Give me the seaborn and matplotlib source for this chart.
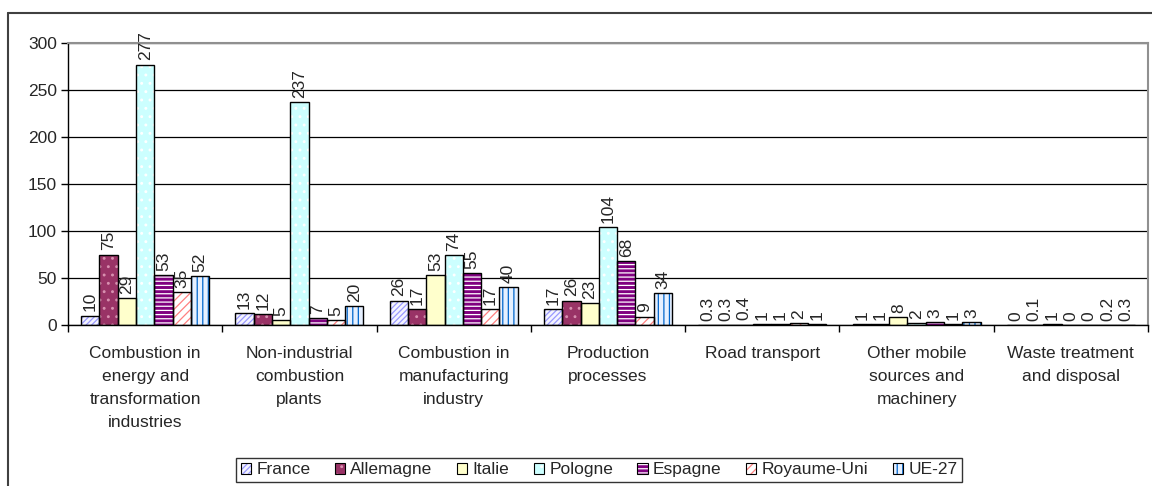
import pandas as pd
import matplotlib.pyplot as plt
import seaborn as sns
from matplotlib.patches import Patch, Rectangle
from matplotlib.lines import Line2D

# --- Data ---
sectors = [
    "Combustion in\nenergy and\ntransformation\nindustries",
    "Non-industrial\ncombustion\nplants",
    "Combustion in\nmanufacturing\nindustry",
    "Production\nprocesses",
    "Road transport",
    "Other mobile\nsources and\nmachinery",
    "Waste treatment\nand disposal",
]
countries = ["France", "Allemagne", "Italie", "Pologne", "Espagne", "Royaume-Uni", "UE-27"]

france = [10, 13, 26, 17, 0.3, 1, 0]
allemagne = [75, 12, 17, 26, 0.3, 1, 0.1]
italie = [29, 5, 53, 23, 0.4, 8, 1]
pologne = [277, 237, 74, 104, 1, 2, 0]
espagne = [53, 7, 55, 68, 1, 3, 0]
royaume_uni = [35, 5, 17, 9, 2, 1, 0.2]
ue27 = [52, 20, 40, 34, 1, 3, 0.3]

series = [france, allemagne, italie, pologne, espagne, royaume_uni, ue27]

# face colour, hatch, hatch colour
styles = [
    ("#F4F4FF", "//////", "#9999FF"),
    ("#993366", "..", "#D890B0"),
    ("#FFFFCC", "", "#FFFFCC"),
    ("#CCFFFF", "..", "#FFFFFF"),
    ("#800080", "----", "#FFFFFF"),
    ("#FFFFFF", "////", "#FF8080"),
    ("#E6F0FF", "|||", "#0066CC"),
]

rows = []
for country, vals in zip(countries, series):
    for sector, v in zip(sectors, vals):
        rows.append({"sector": sector, "country": country, "value": v})
df = pd.DataFrame(rows)

# --- Plot ---
sns.set_theme(style="white")
plt.rcParams["font.family"] = ["Liberation Sans", "DejaVu Sans"]
plt.rcParams["hatch.linewidth"] = 0.9
FS = 12.5

fig = plt.figure(figsize=(11.52, 4.86), dpi=100)
ax = fig.add_axes([68 / 1152, 1 - 325 / 486, 1080 / 1152, 282 / 486])

sns.barplot(data=df, x="sector", y="value", hue="country", order=sectors,
            hue_order=countries, width=0.83, ax=ax, legend=False)

for cont, (fc, hatch, hc), vals in zip(ax.containers, styles, series):
    for p in cont.patches:
        p.set_facecolor(fc)
        p.set_hatch(hatch)
        p.set_edgecolor(hc)
        p.set_linewidth(0)
        ax.add_patch(Rectangle(p.get_xy(), p.get_width(), p.get_height(),
                               fill=False, ec="black", lw=1, zorder=p.get_zorder() + 0.1))
    ax.bar_label(cont, labels=[f"{v:g}" for v in vals], rotation=90,
                 padding=3, fontsize=FS)

ax.set_ylim(0, 300)
ax.set_yticks(range(0, 301, 50))
ax.set_xlim(-0.5, len(sectors) - 0.5)
ax.yaxis.grid(True, color="black", lw=0.9)
ax.set_axisbelow(True)
ax.set_xlabel("")
ax.set_ylabel("")

ax.tick_params(axis="y", which="major", left=True, length=5, width=1,
               color="black", labelsize=FS, pad=3)
ax.tick_params(axis="x", which="major", bottom=False, labelsize=FS, pad=9)
ax.set_xticks([i - 0.5 for i in range(len(sectors) + 1)], minor=True)
ax.tick_params(axis="x", which="minor", bottom=True, length=5, width=1, color="black")
for lbl in ax.get_xticklabels():
    lbl.set_linespacing(1.68)

for side in ["left", "bottom"]:
    ax.spines[side].set_color("black")
    ax.spines[side].set_linewidth(1)
for side in ["top", "right"]:
    ax.spines[side].set_color("#909090")
    ax.spines[side].set_linewidth(1.5)

# outer chart frame
fig.add_artist(Line2D([8 / 1152, 8 / 1152], [0, 1 - 13 / 486], transform=fig.transFigure,
                      color="#404040", lw=1.5))
fig.add_artist(Line2D([8 / 1152, 1], [1 - 13 / 486, 1 - 13 / 486], transform=fig.transFigure,
                      color="#404040", lw=1.5))

handles = []
for fc, hatch, hc in styles:
    handles.append((Patch(facecolor=fc, hatch=hatch, edgecolor=hc, lw=0),
                    Patch(facecolor="none", edgecolor="black", lw=0.8)))
leg = fig.legend(handles, countries, loc="center", bbox_to_anchor=(0.52, 0.033),
                 ncol=7, fontsize=FS, frameon=True, fancybox=False,
                 handlelength=0.6, handleheight=0.6, handletextpad=0.3,
                 columnspacing=1.4, borderpad=0.25)
leg.get_frame().set_edgecolor("black")
leg.get_frame().set_linewidth(1)

fig.savefig("out.png", dpi=100)
